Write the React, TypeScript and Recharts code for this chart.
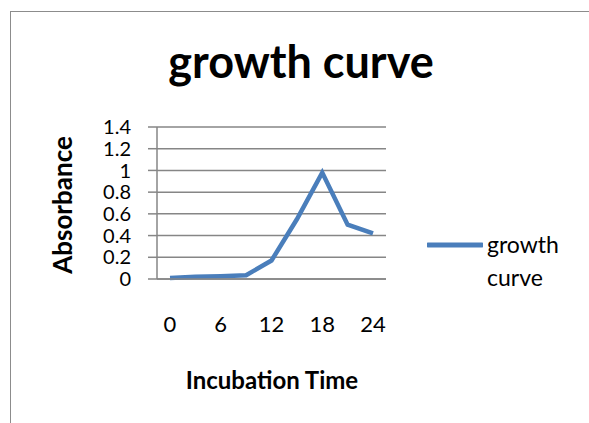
import React from 'react'
import { CartesianGrid, Line, LineChart, XAxis, YAxis } from 'recharts'

const times = [0, 3, 6, 9, 12, 15, 18, 21, 24]
const absorbance = [0.01, 0.02, 0.025, 0.035, 0.17, 0.55, 0.98, 0.5, 0.42]
const yTicks = [0, 0.2, 0.4, 0.6, 0.8, 1, 1.2, 1.4]

const seriesName = 'growth curve'
const lineColor = '#4a7ebb'
const gridColor = '#868686'
const font = 'Lato, "Open Sans", sans-serif'

const data = times.map((t, i) => ({ t, value: absorbance[i] }))

function LegendBox() {
  return (
    <div
      style={{
        position: 'absolute',
        left: 427,
        top: 233,
        display: 'flex',
        alignItems: 'flex-start',
        fontFamily: font,
        fontSize: 23,
        color: '#000',
      }}
    >
      <svg width={56} height={24}>
        <line x1={1} y1={12} x2={55} y2={12} stroke={lineColor} strokeWidth={5} strokeLinecap="round" />
      </svg>
      <div style={{ width: 90, lineHeight: '33px', marginTop: -5, marginLeft: 4 }}>
        {seriesName.split(' ')[0]}
        <br />
        {seriesName.split(' ')[1]}
      </div>
    </div>
  )
}

export default function App() {
  return (
    <div
      style={{
        position: 'absolute',
        left: 0,
        top: 0,
        width: 589,
        height: 423,
        overflow: 'hidden',
        background: '#fff',
        fontFamily: font,
      }}
    >
      <div
        style={{
          position: 'absolute',
          left: 10,
          top: 11,
          width: 620,
          height: 460,
          border: '1.5px solid #8c8c8c',
        }}
      />
      <div
        style={{
          position: 'absolute',
          left: 0,
          width: 602,
          top: 34,
          textAlign: 'center',
          fontSize: 45,
          fontWeight: 700,
          color: '#000',
        }}
      >
        growth curve
      </div>
      <div
        style={{
          position: 'absolute',
          left: 62 - 90,
          top: 205 - 16,
          width: 180,
          height: 32,
          lineHeight: '32px',
          textAlign: 'center',
          transform: 'rotate(-90deg)',
          fontSize: 26,
          fontWeight: 700,
          color: '#000',
        }}
      >
        Absorbance
      </div>
      <div
        style={{
          position: 'absolute',
          left: 162,
          width: 220,
          top: 365,
          textAlign: 'center',
          fontSize: 24,
          fontWeight: 700,
          color: '#000',
        }}
      >
        Incubation Time
      </div>
      <div style={{ position: 'absolute', left: 0, top: 0 }}>
        <LineChart width={589} height={423} data={data} margin={{ top: 127, right: 203, bottom: 114, left: 0 }}>
          <CartesianGrid vertical={false} stroke={gridColor} strokeWidth={1.5} />
          <XAxis
            dataKey="t"
            type="category"
            interval={1}
            height={30}
            padding={{ left: 13, right: 13 }}
            axisLine={{ stroke: gridColor, strokeWidth: 1.5 }}
            tickLine={false}
            tickMargin={31}
            tick={{ fill: '#000', fontSize: 22, fontFamily: font }}
          />
          <YAxis
            width={157}
            domain={[0, 1.4]}
            ticks={yTicks}
            interval={0}
            axisLine={{ stroke: gridColor, strokeWidth: 1.5 }}
            tickLine={{ stroke: gridColor, strokeWidth: 1.5 }}
            tickSize={9}
            tickMargin={17}
            tick={{ fill: '#000', fontSize: 20, fontFamily: font }}
          />
          <Line
            type="linear"
            dataKey="value"
            name={seriesName}
            stroke={lineColor}
            strokeWidth={4.5}
            dot={false}
            activeDot={false}
            isAnimationActive={false}
          />
        </LineChart>
      </div>
      <LegendBox />
    </div>
  )
}
